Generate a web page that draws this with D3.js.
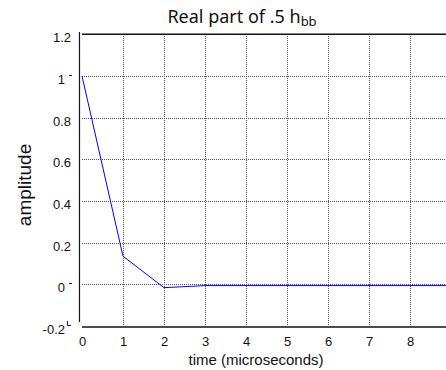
<!DOCTYPE html>
<html>
<head>
<meta charset="utf-8">
<script src="https://cdn.jsdelivr.net/npm/d3@7"></script>
<style>
  html, body { margin: 0; padding: 0; background: #fff; overflow: hidden; }
  svg { display: block; }
</style>
</head>
<body>
<div id="chart"></div>
<script>
// data
const timeValues = [0, 1, 2, 3, 4, 5, 6, 7, 8, 9, 10];
const amplitude = [1, 0.135, -0.016, -0.006, -0.006, -0.006, -0.006, -0.006, -0.006, -0.006, -0.006];
const xTicks = [0, 1, 2, 3, 4, 5, 6, 7, 8, 9];
const yTicks = [-0.2, 0, 0.2, 0.4, 0.6, 0.8, 1, 1.2];
const yTickLabels = ['-0.2', '0', '0.2', '0.4', '0.6', '0.8', '1', '1.2'];
const gridY = [0, 0.2, 0.4, 0.6, 0.8, 1];

const width = 446, height = 370;
const svg = d3.select('#chart').append('svg')
  .attr('width', width)
  .attr('height', height);

svg.append('rect').attr('width', width).attr('height', height).attr('fill', '#fff');

const x = d3.scaleLinear().domain([0, 10]).range([82, 492]);
const y = d3.scaleLinear().domain([-0.2, 1.2]).range([326, 34.3]);

const sans = 'Liberation Sans, Arial, Helvetica, sans-serif';

// grid
svg.append('g').selectAll('line')
  .data(xTicks.filter(d => d > 0))
  .enter().append('line')
  .attr('x1', d => x(d)).attr('x2', d => x(d))
  .attr('y1', y(1.2)).attr('y2', y(-0.2))
  .attr('stroke', '#555').attr('stroke-width', 1)
  .attr('stroke-dasharray', '1,1')
  .attr('shape-rendering', 'crispEdges');

svg.append('g').selectAll('line')
  .data(gridY)
  .enter().append('line')
  .attr('x1', x(0)).attr('x2', width)
  .attr('y1', d => Math.round(y(d)) + 0.5).attr('y2', d => Math.round(y(d)) + 0.5)
  .attr('stroke', '#555').attr('stroke-width', 1)
  .attr('stroke-dasharray', '1,1');

// frame lines
svg.append('line')
  .attr('x1', x(0)).attr('x2', width)
  .attr('y1', y(1.2)).attr('y2', y(1.2))
  .attr('stroke', '#111').attr('stroke-width', 1.6);
svg.append('line')
  .attr('x1', x(0)).attr('x2', width)
  .attr('y1', 327).attr('y2', 327)
  .attr('stroke', '#111').attr('stroke-width', 1.4);
svg.append('line')
  .attr('x1', 79.5).attr('x2', 79.5)
  .attr('y1', 32).attr('y2', 322)
  .attr('stroke', '#111').attr('stroke-width', 1.2);

// x axis labels
const xAxis = d3.axisBottom(x).tickValues(xTicks).tickSize(0).tickPadding(0).tickFormat(d3.format('d'));
const gx = svg.append('g').attr('transform', 'translate(0,336)').call(xAxis);
gx.select('.domain').remove();
gx.selectAll('text')
  .attr('dy', null).attr('y', 10)
  .attr('font-family', sans).attr('font-size', 13).attr('fill', '#111');

// y axis labels and small tick marks
const shortLabel = d => d === 0 || d === 1 || d === -0.2;
svg.append('g').selectAll('text')
  .data(yTicks)
  .enter().append('text')
  .attr('x', d => shortLabel(d) ? 65 : 71)
  .attr('y', d => y(d) + 8)
  .attr('text-anchor', 'end')
  .attr('font-family', sans).attr('font-size', 13).attr('fill', '#111')
  .text((d, i) => yTickLabels[i]);

svg.append('g').selectAll('line')
  .data(yTicks.filter(d => d === 0 || d === 1))
  .enter().append('line')
  .attr('x1', 69).attr('x2', 72)
  .attr('y1', d => Math.round(y(d)) - 0.5).attr('y2', d => Math.round(y(d)) - 0.5)
  .attr('stroke', '#222').attr('stroke-width', 1);

svg.append('path')
  .attr('d', `M67.5,${y(-0.2) - 5}V${y(-0.2) - 0.5}H71`)
  .attr('fill', 'none').attr('stroke', '#222').attr('stroke-width', 1);

// data line
const line = d3.line()
  .x((d, i) => x(timeValues[i]))
  .y(d => y(d));
svg.append('path')
  .datum(amplitude)
  .attr('d', line)
  .attr('fill', 'none')
  .attr('stroke', '#0000ff')
  .attr('stroke-width', 1);

// title
const title = svg.append('text')
  .attr('x', 242).attr('y', 23)
  .attr('text-anchor', 'middle')
  .attr('font-family', 'Noto Sans, sans-serif').attr('font-size', 18).attr('fill', '#111');
title.append('tspan').text('Real part of .5 h');
title.append('tspan').attr('font-size', 13).attr('dy', 3).text('bb');

// axis titles
svg.append('text')
  .attr('x', 256).attr('y', 365)
  .attr('text-anchor', 'middle')
  .attr('font-family', sans).attr('font-size', 15).attr('fill', '#111')
  .text('time (microseconds)');

svg.append('text')
  .attr('transform', 'translate(31,185) rotate(-90)')
  .attr('text-anchor', 'middle')
  .attr('font-family', sans).attr('font-size', 19).attr('fill', '#111')
  .text('amplitude');
</script>
</body>
</html>
